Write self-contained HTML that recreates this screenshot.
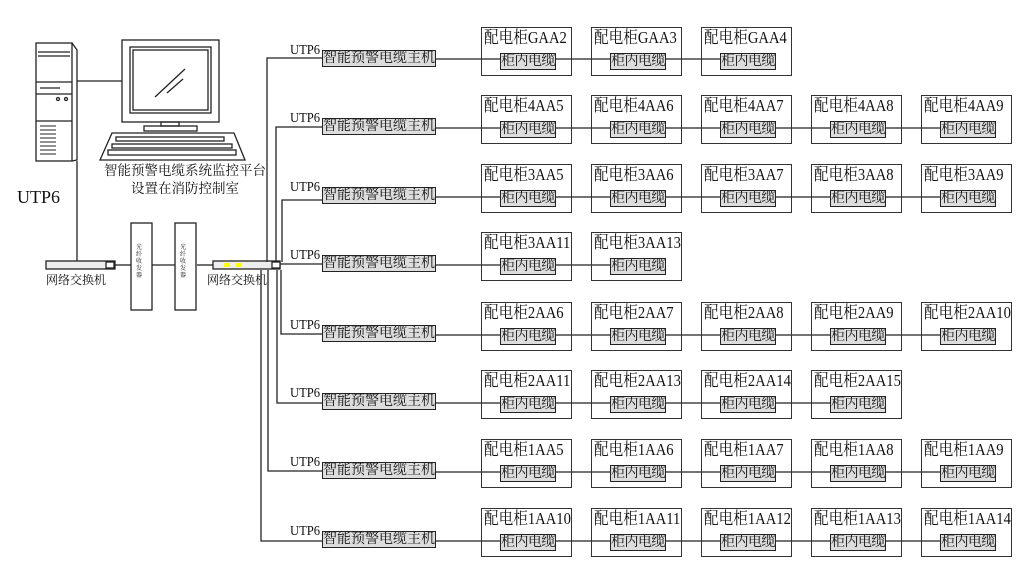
<!DOCTYPE html>
<html><head><meta charset="utf-8"><style>
body{margin:0;width:1020px;height:578px;background:#fff;position:relative;overflow:hidden;font-family:"Liberation Serif","Noto Serif CJK SC",serif;color:#111}
.a{position:absolute}
.ob{position:absolute;width:89px;height:47px;border:1.5px solid #333;box-sizing:content-box}
.ob .t{position:absolute;left:2px;top:0;font-size:17px;line-height:20px;white-space:nowrap;transform:scaleX(0.86);transform-origin:0 0}
.ib{position:absolute;left:18px;top:25px;width:54px;height:15px;border:1px solid #222;background:#ddd;font-size:14px;line-height:15px;text-align:center;white-space:nowrap;letter-spacing:-0.5px;overflow:hidden}
.host{position:absolute;left:322px;width:112px;height:15px;border:1px solid #222;background:#ddd;font-size:14px;line-height:15px;text-align:center;white-space:nowrap;overflow:hidden}
.utp{position:absolute;left:290px;font-size:14px;line-height:14px;transform:scaleX(0.9);transform-origin:0 0}
</style></head><body>
<svg class="a" style="left:0;top:0" width="1020" height="578">
<g stroke="#222" stroke-width="1.3" fill="none">
<rect x="36" y="43" width="36" height="118" fill="#fff"/>
<path d="M72 43 L77 50 L77 160 L72 161"/>
<line x1="38" y1="52" x2="70" y2="52"/><line x1="38" y1="56" x2="70" y2="56"/>
<line x1="36" y1="82" x2="72" y2="82"/><line x1="36" y1="94" x2="72" y2="94"/>
<line x1="40" y1="88" x2="60" y2="88"/><line x1="36" y1="121" x2="72" y2="121"/>
<g stroke-width="1"><line x1="40" y1="126" x2="56" y2="126"/><line x1="40" y1="130" x2="56" y2="130"/><line x1="40" y1="134" x2="56" y2="134"/><line x1="40" y1="138" x2="56" y2="138"/><line x1="40" y1="142" x2="56" y2="142"/><line x1="40" y1="146" x2="56" y2="146"/><line x1="40" y1="150" x2="56" y2="150"/><line x1="40" y1="154" x2="56" y2="154"/></g>
<circle cx="58" cy="99" r="1.5"/><circle cx="66" cy="99" r="1.5"/>
<line x1="77" y1="81" x2="122" y2="81"/>
<rect x="122" y="40" width="97" height="82"/>
<rect x="130" y="47" width="81" height="66"/><rect x="133" y="50" width="75" height="60"/>
<line x1="155" y1="97" x2="185" y2="69"/><line x1="167" y1="93" x2="183" y2="79"/>
<rect x="161" y="122" width="18" height="4"/><rect x="144" y="126" width="53" height="5"/>
<path d="M100 160 L112 133 L234 133 L245 160 Z"/>
<rect x="116" y="137" width="108" height="4"/><rect x="112" y="144" width="120" height="4"/><rect x="108" y="150" width="128" height="5"/>
<line x1="77" y1="161" x2="77" y2="262"/>
<line x1="115" y1="265" x2="131" y2="265"/><line x1="152" y1="265" x2="175" y2="265"/><line x1="197" y1="265" x2="213" y2="265"/>
<rect x="131" y="223" width="21" height="87" fill="#fff"/><rect x="175" y="223" width="21" height="87" fill="#fff"/>
<rect x="46" y="261" width="69" height="8" fill="#eee"/><rect x="106" y="262" width="8" height="6" fill="#fff"/>
<rect x="213" y="261" width="67" height="8" fill="#eee"/><rect x="272" y="262" width="8" height="6" fill="#fff"/>
<path d="M267 262 V58 H322"/><path d="M276 262 V127 H322"/><path d="M282 262 V200 H322"/>
<path d="M280 264 H322"/>
<path d="M281 270 V334 H322"/><path d="M277 270 V403 H322"/><path d="M268 270 V471 H322"/><path d="M261 270 V541 H322"/>
<line x1="435" y1="59" x2="720" y2="59"/>
<line x1="435" y1="128" x2="940" y2="128"/>
<line x1="435" y1="197" x2="940" y2="197"/>
<line x1="435" y1="265" x2="610" y2="265"/>
<line x1="435" y1="335" x2="940" y2="335"/>
<line x1="435" y1="403" x2="830" y2="403"/>
<line x1="435" y1="472" x2="940" y2="472"/>
<line x1="435" y1="541" x2="940" y2="541"/>
</g>
<rect x="224" y="263" width="6" height="4" fill="#ff0"/><rect x="236" y="263" width="6" height="4" fill="#ff0"/>
</svg>
<div class="a" style="left:90px;top:162px;font-size:13.5px;line-height:18px;text-align:center;width:190px;white-space:nowrap">智能预警电缆系统监控平台<br>设置在消防控制室</div>
<div class="a" style="left:17px;top:187px;font-size:18px">UTP6</div>
<div class="a" style="left:46px;top:271px;font-size:12px">网络交换机</div>
<div class="a" style="left:207px;top:271px;font-size:12px">网络交换机</div>
<div class="a" style="left:136px;top:245px;font-size:6px;width:10px;line-height:7px">光纤收发器</div>
<div class="a" style="left:180px;top:245px;font-size:6px;width:10px;line-height:7px">光纤收发器</div>
<div id="rows"></div>
<script>
var rows=[[27,["GAA2","GAA3","GAA4"]],[95,["4AA5","4AA6","4AA7","4AA8","4AA9"]],[164,["3AA5","3AA6","3AA7","3AA8","3AA9"]],[232,["3AA11","3AA13"]],[302,["2AA6","2AA7","2AA8","2AA9","2AA10"]],[370,["2AA11","2AA13","2AA14","2AA15"]],[439,["1AA5","1AA6","1AA7","1AA8","1AA9"]],[508,["1AA10","1AA11","1AA12","1AA13","1AA14"]]];
var h="";
rows.forEach(function(r){var t=r[0];
h+='<div class="utp" style="top:'+(t+17)+'px">UTP6</div><div class="host" style="top:'+(t+23)+'px">智能预警电缆主机</div>';
r[1].forEach(function(n,i){h+='<div class="ob" style="left:'+(481+110*i)+'px;top:'+t+'px"><div class="t">配电柜'+n+'</div><div class="ib">柜内电缆</div></div>';});});
document.getElementById("rows").innerHTML=h;
</script>
</body></html>
